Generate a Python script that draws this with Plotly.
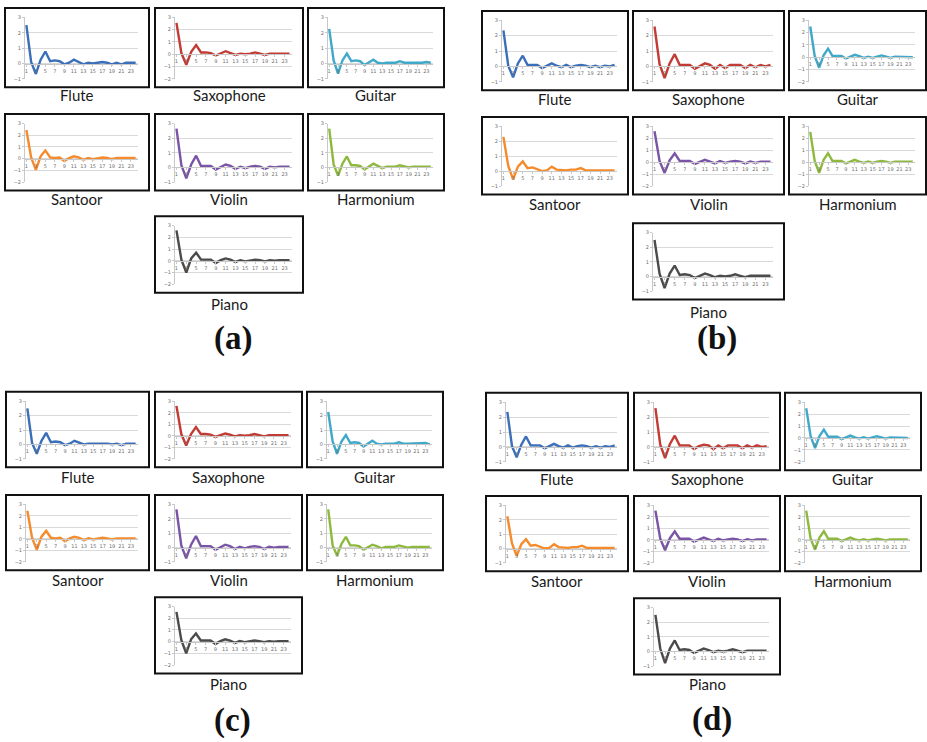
import plotly.graph_objects as go

W, H = 927, 742

instruments = ["Flute", "Saxophone", "Guitar", "Santoor", "Violin", "Harmonium", "Piano"]
panel_names = ["(a)", "(b)", "(c)", "(d)"]
x_index = list(range(1, 25))
x_tick_vals = list(range(1, 24, 2))
x_tick_text = [str(v) for v in x_tick_vals]
y_top = 3
y_bottom_ac = [-1, -2, -1, -2, -1, -1, -2]
y_bottom_bd = [-1, -1, -2, -1, -2, -2, -1]

# ---- panel (a) ----
a_flute = [2.5, 0.1, -0.68, 0.25, 0.78, 0.15, 0.2, 0.15, -0.05, 0.05, 0.25, 0.1, -0.05, 0.05, 0.0, 0.05, 0.1, 0.05, -0.05, 0.05, -0.05, 0.05, 0.05, 0.05]
a_sax = [2.55, 0.1, -0.85, 0.2, 0.75, 0.15, 0.15, 0.1, -0.1, 0.05, 0.25, 0.1, -0.05, 0.05, 0.0, 0.05, 0.15, 0.05, -0.05, 0.05, 0.05, 0.05, 0.1, 0.05]
a_guitar = [2.25, 0.2, -0.65, 0.2, 0.65, 0.15, 0.2, 0.15, -0.1, 0.05, 0.25, 0.05, 0.0, 0.05, 0.05, 0.05, 0.15, 0.05, 0.05, 0.05, 0.05, 0.05, 0.1, 0.05]
a_santoor = [2.45, 0.1, -0.95, 0.2, 0.7, 0.1, 0.05, 0.1, -0.2, 0.05, 0.2, 0.1, -0.1, 0.05, -0.05, 0.05, 0.1, 0.05, -0.05, 0.05, 0.05, 0.05, 0.05, 0.05]
a_violin = [2.65, 0.15, -0.75, 0.2, 0.8, 0.1, 0.1, 0.1, -0.15, 0.05, 0.2, 0.1, -0.1, 0.05, -0.05, 0.05, 0.1, 0.05, -0.1, 0.05, 0.0, 0.05, 0.05, 0.05]
a_harmonium = [2.65, 0.2, -0.55, 0.25, 0.75, 0.15, 0.15, 0.1, -0.15, 0.05, 0.25, 0.1, -0.05, 0.05, 0.05, 0.05, 0.15, 0.05, 0.0, 0.05, 0.05, 0.05, 0.05, 0.05]
a_piano = [2.6, 0.1, -1.0, 0.2, 0.7, 0.1, 0.1, 0.1, -0.2, 0.05, 0.2, 0.1, -0.1, 0.05, -0.05, 0.05, 0.1, 0.05, -0.05, 0.05, 0.0, 0.05, 0.05, 0.05]

# ---- panel (b) ----
b_flute = [2.35, 0.05, -0.7, 0.2, 0.7, 0.1, 0.1, 0.1, -0.1, 0.05, 0.2, 0.05, -0.05, 0.1, -0.05, 0.05, 0.1, 0.05, -0.05, 0.05, -0.05, 0.05, 0.0, 0.1]
b_sax = [2.6, 0.15, -0.75, 0.2, 0.8, 0.1, 0.1, 0.1, -0.15, 0.05, 0.2, 0.1, -0.15, 0.1, -0.1, 0.1, 0.1, 0.1, -0.1, 0.1, -0.05, 0.1, 0.0, 0.1]
b_guitar = [2.5, 0.1, -0.85, 0.15, 0.7, 0.1, 0.1, 0.1, -0.1, 0.05, 0.2, 0.1, -0.05, 0.05, -0.05, 0.05, 0.15, 0.05, -0.05, 0.05, 0.05, 0.05, 0.05, 0.0]
b_santoor = [2.3, 0.35, -0.55, 0.3, 0.65, 0.2, 0.25, 0.15, 0.0, 0.05, 0.3, 0.1, 0.05, 0.05, 0.1, 0.1, 0.2, 0.05, 0.05, 0.05, 0.05, 0.05, 0.05, 0.05]
b_violin = [2.6, 0.1, -0.9, 0.15, 0.75, 0.1, 0.1, 0.1, -0.15, 0.05, 0.2, 0.05, -0.1, 0.1, -0.05, 0.05, 0.1, 0.05, -0.1, 0.05, -0.05, 0.05, 0.05, 0.05]
b_harmonium = [2.55, 0.1, -0.9, 0.2, 0.75, 0.1, 0.1, 0.1, -0.1, 0.05, 0.2, 0.05, -0.05, 0.05, -0.05, 0.05, 0.1, 0.05, -0.05, 0.05, 0.05, 0.05, 0.05, 0.05]
b_piano = [2.5, 0.2, -0.8, 0.2, 0.75, 0.1, 0.15, 0.1, -0.1, 0.05, 0.2, 0.1, -0.05, 0.05, 0.0, 0.05, 0.15, 0.05, -0.05, 0.05, 0.05, 0.05, 0.05, 0.05]

# ---- panel (c) ----
c_flute = [2.5, 0.1, -0.65, 0.25, 0.8, 0.15, 0.2, 0.15, -0.05, 0.05, 0.25, 0.1, 0.0, 0.05, 0.05, 0.05, 0.1, 0.05, 0.0, 0.05, -0.05, 0.05, 0.05, 0.05]
c_sax = [2.6, 0.15, -0.85, 0.15, 0.75, 0.15, 0.15, 0.1, -0.1, 0.05, 0.2, 0.1, -0.05, 0.05, 0.0, 0.05, 0.15, 0.05, -0.05, 0.05, 0.05, 0.05, 0.1, 0.05]
c_guitar = [2.25, 0.2, -0.65, 0.2, 0.65, 0.1, 0.15, 0.1, -0.15, 0.05, 0.25, 0.05, 0.0, 0.05, 0.05, 0.05, 0.15, 0.05, 0.05, 0.05, 0.05, 0.05, 0.1, 0.0]
c_santoor = [2.45, 0.1, -0.95, 0.2, 0.7, 0.1, 0.05, 0.1, -0.2, 0.05, 0.2, 0.1, -0.1, 0.05, -0.05, 0.05, 0.1, 0.05, -0.05, 0.05, 0.05, 0.05, 0.05, 0.05]
c_violin = [2.65, 0.15, -0.75, 0.2, 0.8, 0.1, 0.1, 0.1, -0.15, 0.05, 0.2, 0.1, -0.1, 0.05, -0.05, 0.05, 0.1, 0.05, -0.1, 0.05, 0.0, 0.05, 0.05, 0.05]
c_harmonium = [2.65, 0.15, -0.55, 0.25, 0.75, 0.15, 0.15, 0.1, -0.15, 0.05, 0.2, 0.1, -0.05, 0.05, 0.05, 0.05, 0.15, 0.05, 0.0, 0.05, 0.05, 0.05, 0.05, 0.05]
c_piano = [2.55, 0.15, -1.0, 0.2, 0.7, 0.1, 0.1, 0.1, -0.2, 0.05, 0.2, 0.1, -0.1, 0.05, -0.05, 0.05, 0.1, 0.05, -0.05, 0.05, 0.0, 0.05, 0.05, 0.05]

# ---- panel (d) ----
d_flute = [2.35, 0.05, -0.7, 0.15, 0.7, 0.1, 0.1, 0.1, -0.1, 0.05, 0.2, 0.05, -0.05, 0.1, -0.05, 0.05, 0.1, 0.05, -0.05, 0.05, -0.05, 0.05, 0.0, 0.1]
d_sax = [2.6, 0.15, -0.75, 0.2, 0.75, 0.1, 0.1, 0.1, -0.15, 0.05, 0.15, 0.1, -0.15, 0.1, -0.1, 0.1, 0.1, 0.1, -0.1, 0.1, -0.05, 0.1, 0.0, 0.05]
d_guitar = [2.5, 0.15, -0.85, 0.15, 0.7, 0.1, 0.1, 0.1, -0.1, 0.05, 0.2, 0.05, -0.05, 0.05, -0.05, 0.05, 0.15, 0.05, -0.05, 0.05, 0.05, 0.05, 0.05, 0.0]
d_santoor = [2.25, 0.35, -0.5, 0.3, 0.65, 0.2, 0.25, 0.15, 0.0, 0.05, 0.3, 0.1, 0.05, 0.05, 0.1, 0.1, 0.2, 0.05, 0.05, 0.05, 0.05, 0.05, 0.05, 0.05]
d_violin = [2.55, 0.1, -0.9, 0.15, 0.75, 0.1, 0.1, 0.1, -0.15, 0.05, 0.2, 0.05, -0.1, 0.1, -0.05, 0.05, 0.1, 0.05, -0.1, 0.05, -0.05, 0.05, 0.05, 0.05]
d_harmonium = [2.55, 0.1, -0.85, 0.2, 0.75, 0.1, 0.1, 0.1, -0.1, 0.05, 0.2, 0.05, -0.05, 0.05, -0.05, 0.05, 0.1, 0.05, -0.05, 0.05, 0.05, 0.05, 0.05, 0.05]
d_piano = [2.5, 0.2, -0.8, 0.2, 0.75, 0.1, 0.15, 0.1, -0.1, 0.05, 0.2, 0.1, -0.05, 0.05, 0.0, 0.05, 0.15, 0.05, -0.05, 0.05, 0.05, 0.05, 0.05, 0.05]

panel_series = [
    [a_flute, a_sax, a_guitar, a_santoor, a_violin, a_harmonium, a_piano],
    [b_flute, b_sax, b_guitar, b_santoor, b_violin, b_harmonium, b_piano],
    [c_flute, c_sax, c_guitar, c_santoor, c_violin, c_harmonium, c_piano],
    [d_flute, d_sax, d_guitar, d_santoor, d_violin, d_harmonium, d_piano],
]
panel_ybottoms = [y_bottom_ac, y_bottom_bd, y_bottom_ac, y_bottom_bd]

# ---- styling / geometry (pixels) ----
colors = ["#3b6fb9", "#c23b35", "#40a8c8", "#f68b2c", "#7a54a6", "#8dba3e", "#4b4b4b"]
geom = [
    dict(cols=[(5, 149), (155, 303), (308, 444)], rows=[(5, 85), (112, 189), (215, 292)], labels=[93, 198, 303], tag=(233, 338)),
    dict(cols=[(482, 628), (633, 784), (789, 926)], rows=[(8, 88), (115, 193), (222, 299)], labels=[97, 203, 312], tag=(717, 338)),
    dict(cols=[(6, 149), (155, 302), (307, 443)], rows=[(392, 468), (496, 572), (599, 676)], labels=[478, 582, 687], tag=(233, 723)),
    dict(cols=[(486, 628), (634, 780), (785, 921)], rows=[(393, 471), (497, 573), (600, 677)], labels=[480, 583, 687], tag=(712, 722)),
]

fig = go.Figure()
layout = dict(
    width=W, height=H, margin=dict(l=0, r=0, t=0, b=0),
    paper_bgcolor="white", plot_bgcolor="white", showlegend=False,
)
shapes = []
annotations = []

n = 0
for p in range(4):
    g = geom[p]
    for i, name in enumerate(instruments):
        n += 1
        if i < 6:
            r, c = i // 3, i % 3
        else:
            r, c = 2, 1
        bl, br = g["cols"][c]
        bt, bb = g["rows"][r]
        left, right = bl + 19, br - 11
        top, bottom = bt + 9.5, bb - 8.5
        ymin = panel_ybottoms[p][i]
        zero_py = top + (y_top - 0) / (y_top - ymin) * (bottom - top)

        xa = "x" if n == 1 else f"x{n}"
        ya = "y" if n == 1 else f"y{n}"
        xkey = "xaxis" if n == 1 else f"xaxis{n}"
        ykey = "yaxis" if n == 1 else f"yaxis{n}"

        fig.add_trace(go.Scatter(
            x=x_index, y=panel_series[p][i], mode="lines",
            line=dict(color=colors[i], width=2.4), xaxis=xa, yaxis=ya,
            hoverinfo="skip",
        ))
        layout[xkey] = dict(
            domain=[left / W, right / W], anchor="free", position=1 - zero_py / H,
            range=[0.5, 24.5], tickmode="array", tickvals=x_tick_vals, ticktext=x_tick_text,
            showgrid=False, zeroline=False, showline=True, linecolor="#c8c8c8", linewidth=1,
            ticks="outside", ticklen=2, tickcolor="#c8c8c8",
            tickfont=dict(size=5, color="#707070", family="DejaVu Sans"), fixedrange=True,
        )
        layout[ykey] = dict(
            domain=[1 - bottom / H, 1 - top / H], anchor="free",
            position=left / W,
            range=[ymin, y_top], tickmode="linear", tick0=0, dtick=1,
            showgrid=True, gridcolor="#d9d9d9", gridwidth=1, zeroline=False,
            showline=True, linecolor="#c8c8c8", linewidth=1,
            ticks="outside", ticklen=2, tickcolor="#c8c8c8",
            tickfont=dict(size=5, color="#707070", family="DejaVu Sans"), fixedrange=True,
        )
        shapes.append(dict(
            type="rect", xref="paper", yref="paper",
            x0=bl / W, x1=br / W, y0=1 - bb / H, y1=1 - bt / H,
            line=dict(color="#111111", width=2), fillcolor="rgba(0,0,0,0)", layer="above",
        ))
        annotations.append(dict(
            x=(bl + br) / 2 / W, y=1 - g["labels"][r] / H, xref="paper", yref="paper",
            text=name, showarrow=False, xanchor="center", yanchor="middle",
            font=dict(family="Lato", size=15, color="#1a1a1a"),
        ))
    tx, ty = g["tag"]
    annotations.append(dict(
        x=tx / W, y=1 - ty / H, xref="paper", yref="paper",
        text=f"<b>{panel_names[p]}</b>", showarrow=False, xanchor="center", yanchor="middle",
        font=dict(family="Liberation Serif", size=33, color="#111111"),
    ))

layout["shapes"] = shapes
layout["annotations"] = annotations
fig.update_layout(**layout)
fig.write_html("out.html")
